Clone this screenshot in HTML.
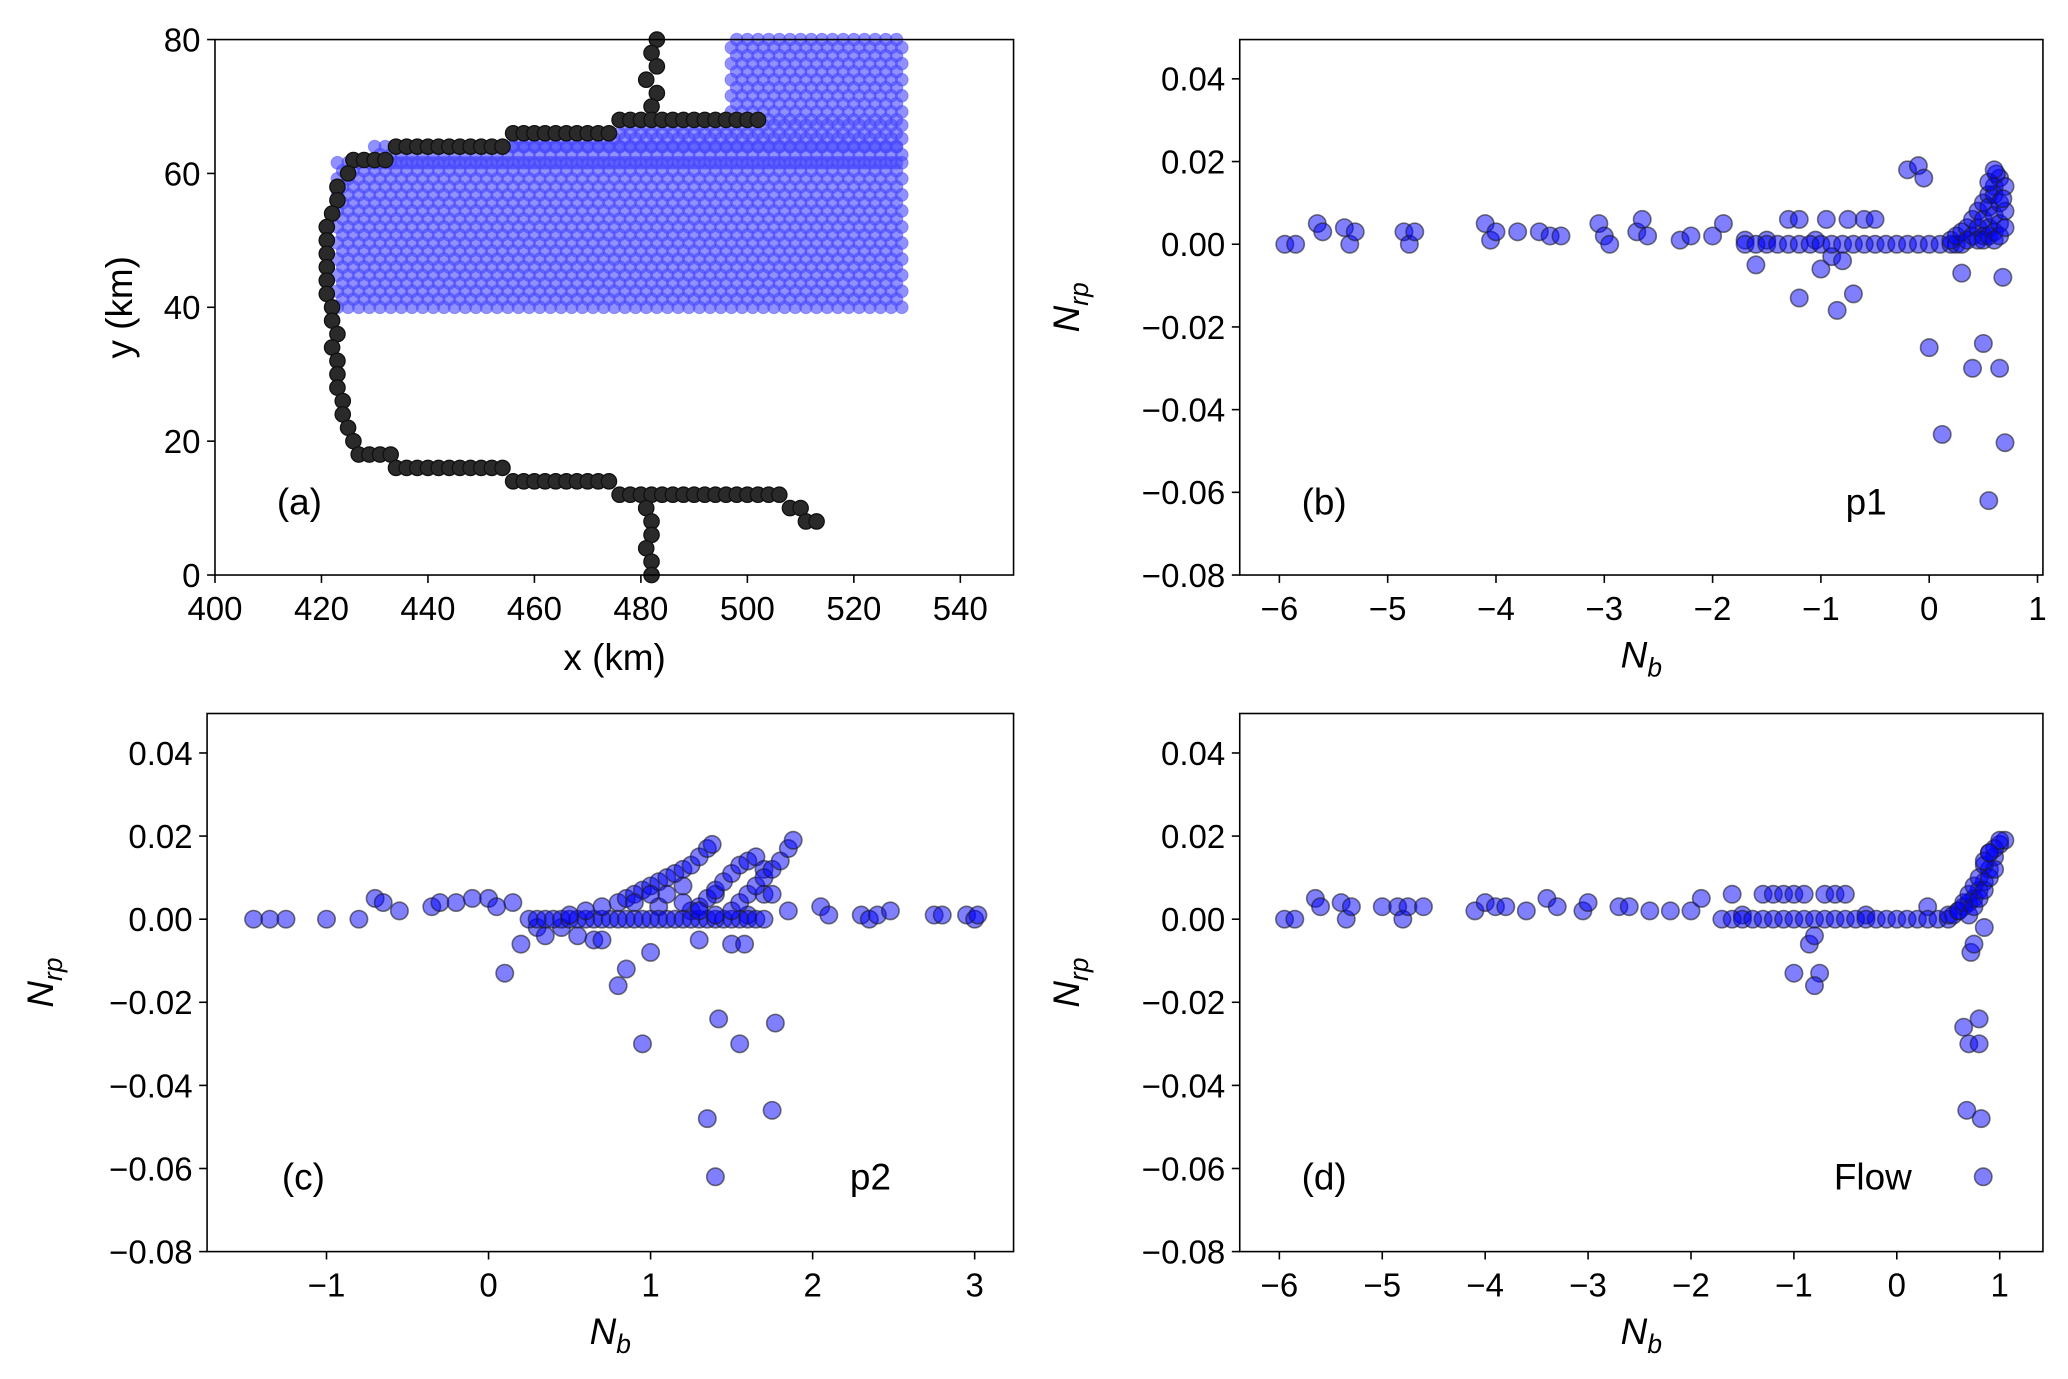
<!DOCTYPE html>
<html><head><meta charset="utf-8">
<style>
html,body{margin:0;padding:0;background:#fff;}
svg{display:block;font-family:"Liberation Sans","DejaVu Sans",sans-serif;}
</style></head>
<body>
<svg id="fig" width="2068" height="1379" viewBox="0 0 1568 1045.6" xmlns="http://www.w3.org/2000/svg"></svg>
<script>
// ---------- data ----------
const boundaryX = [483,482,483,481,483,482, 476,478,480,482,484,486,488,490,492,494,496,498,500,502, 456,458,460,462,464,466,468,470,472,474, 434,436,438,440,442,444,446,448,450,452,454, 426,428,430,432, 425,423,423,422,421,421,421,421,421,421,422,422,423,422,423,423,423,424,424,425,426, 427,429,431,433, 434,436,438,440,442,444,446,448,450,452,454, 456,458,460,462,464,466,468,470,472,474, 476,478,480,482,484,486,488,490,492,494,496,498,500,502,504,506, 508,510,511,513, 481,482,482,481,482,482];
const boundaryY = [80,78,76,74,72,70, 68,68,68,68,68,68,68,68,68,68,68,68,68,68, 66,66,66,66,66,66,66,66,66,66, 64,64,64,64,64,64,64,64,64,64,64, 62,62,62,62, 60,58,56,54,52,50,48,46,44,42,40,38,36,34,32,30,28,26,24,22,20, 18,18,18,18, 16,16,16,16,16,16,16,16,16,16,16, 14,14,14,14,14,14,14,14,14,14, 12,12,12,12,12,12,12,12,12,12,12,12,12,12,12,12, 10,10,8,8, 10,8,6,4,2,0];
const regionYFrom = [40, 61.6, 64, 66, 68];
const regionYTo   = [61.6, 64, 66, 68, 80];
const regionXFrom = [423, 430, 456, 476, 497];
const regionXTo = 529;

const bX = [-5.95,-5.85,-5.65,-5.6,-5.4,-5.35,-5.3,-4.85,-4.8,-4.75,-4.1,-4.05,-4.0,-3.8,-3.6,-3.5,-3.4,-3.05,-3.0,-2.95,-2.7,-2.65,-2.6,-2.3,-2.2,-2.0,-1.9,-1.7,-1.6,-1.5,-1.3,-1.2,-1.05,-1.0,-0.95,-0.9,-0.85,-0.8,-0.75,-0.7,-0.6,-0.5,-0.2,-0.1,-0.05,0.0,0.12,0.3,0.4,0.5,0.55,0.65,0.7,0.68,-1.2,
 -1.7,-1.6,-1.5,-1.4,-1.3,-1.2,-1.1,-1.0,-0.9,-0.8,-0.7,-0.6,-0.5,-0.4,-0.3,-0.2,-0.1,0.0,0.1,0.2,0.25,0.3,
 0.2,0.25,0.3,0.35,0.4,0.45,0.5,0.55,0.6,0.35,0.4,0.45,0.5,0.55,0.6,0.65,0.45,0.5,0.55,0.6,0.65,0.7,0.5,0.55,0.6,0.65,0.7,0.6,0.65,0.7,0.62,0.68,0.55,0.6];
const bY = [0,0,0.005,0.003,0.004,0,0.003,0.003,0,0.003,0.005,0.001,0.003,0.003,0.003,0.002,0.002,0.005,0.002,0,0.003,0.006,0.002,0.001,0.002,0.002,0.005,0.001,-0.005,0.001,0.006,0.006,0.001,-0.006,0.006,-0.003,-0.016,-0.004,0.006,-0.012,0.006,0.006,0.018,0.019,0.016,-0.025,-0.046,-0.007,-0.03,-0.024,-0.062,-0.03,-0.048,-0.008,-0.013,
 0,0,0,0,0,0,0,0,0,0,0,0,0,0,0,0,0,0,0,0,0,0,
 0.001,0.002,0.003,0.004,0.006,0.008,0.01,0.012,0.014,0.001,0.002,0.004,0.006,0.009,0.012,0.016,0.001,0.002,0.004,0.007,0.01,0.014,0.001,0.002,0.003,0.005,0.008,0.001,0.002,0.004,0.017,0.011,0.015,0.018];

const cX = [-1.45,-1.35,-1.25,-1.0,-0.8,-0.7,-0.65,-0.55,-0.35,-0.3,-0.2,-0.1,0.0,0.05,0.1,0.15,0.2,0.3,0.35,0.45,0.55,0.65,0.7,0.8,0.85,0.95,1.0,1.05,1.3,1.35,1.4,1.42,1.5,1.55,1.58,1.75,1.77,1.85,2.05,2.1,2.3,2.35,2.4,2.48,2.75,2.8,2.95,3.0,3.02,1.4,1.2,1.6,1.25,1.7,
 0.25,0.3,0.35,0.4,0.45,0.5,0.55,0.6,0.65,0.7,0.75,0.8,0.85,0.9,0.95,1.0,1.05,1.1,1.15,1.2,1.25,1.3,1.35,1.4,1.45,1.5,1.55,1.6,1.65,1.7,
 0.5,0.6,0.7,0.8,0.85,0.9,0.95,1.0,1.05,1.1,1.15,1.2,1.25,1.3,1.35,1.38,1.3,1.35,1.4,1.45,1.5,1.55,1.6,1.65,1.7,1.75,1.5,1.55,1.6,1.65,1.7,1.75,1.8,1.85,1.88,0.9,1.0,1.1,1.2,1.3,1.4];
const cY = [0,0,0,0,0,0.005,0.004,0.002,0.003,0.004,0.004,0.005,0.005,0.003,-0.013,0.004,-0.006,-0.002,-0.004,-0.002,-0.004,-0.005,-0.005,-0.016,-0.012,-0.03,-0.008,0.003,-0.005,-0.048,-0.062,-0.024,-0.006,-0.03,-0.006,-0.046,-0.025,0.002,0.003,0.001,0.001,0.0,0.001,0.002,0.001,0.001,0.001,0.0,0.001,0.006,0.008,0.001,0.002,0.006,
 0,0,0,0,0,0,0,0,0,0,0,0,0,0,0,0,0,0,0,0,0,0,0,0,0,0,0,0,0,0,
 0.001,0.002,0.003,0.004,0.005,0.006,0.007,0.008,0.009,0.01,0.011,0.012,0.013,0.015,0.017,0.018,0.003,0.005,0.007,0.009,0.011,0.013,0.014,0.015,0.012,0.006,0.002,0.004,0.006,0.008,0.01,0.012,0.014,0.017,0.019,0.004,0.006,0.006,0.004,0.002,0.001];

const dX = [-5.95,-5.85,-5.65,-5.6,-5.4,-5.35,-5.3,-5.0,-4.85,-4.8,-4.75,-4.6,-4.1,-4.0,-3.9,-3.8,-3.6,-3.4,-3.3,-3.05,-3.0,-2.7,-2.6,-2.4,-2.2,-2.0,-1.9,-1.6,-1.5,-1.3,-1.2,-1.1,-1.0,-0.9,-0.85,-0.8,-0.75,-0.7,-0.6,-0.5,-0.3,0.3,0.65,0.68,0.7,0.72,0.75,0.8,0.82,0.84,0.8,0.85,-1.0,-0.8,
 -1.7,-1.6,-1.5,-1.4,-1.3,-1.2,-1.1,-1.0,-0.9,-0.8,-0.7,-0.6,-0.5,-0.4,-0.3,-0.2,-0.1,0.0,0.1,0.2,0.3,0.4,0.5,
 0.5,0.55,0.6,0.65,0.7,0.75,0.8,0.85,0.9,0.95,1.0,1.05,0.6,0.65,0.7,0.75,0.8,0.85,0.9,0.95,1.0,0.7,0.75,0.8,0.85,0.9,0.95,0.85,0.9];
const dY = [0,0,0.005,0.003,0.004,0,0.003,0.003,0.003,0,0.003,0.003,0.002,0.004,0.003,0.003,0.002,0.005,0.003,0.002,0.004,0.003,0.003,0.002,0.002,0.002,0.005,0.006,0.001,0.006,0.006,0.006,0.006,0.006,-0.006,-0.004,-0.013,0.006,0.006,0.006,0.001,0.003,-0.026,-0.046,-0.03,-0.008,-0.006,-0.024,-0.048,-0.062,-0.03,-0.002,-0.013,-0.016,
 0,0,0,0,0,0,0,0,0,0,0,0,0,0,0,0,0,0,0,0,0,0,0,
 0.001,0.001,0.002,0.003,0.004,0.005,0.007,0.009,0.012,0.015,0.018,0.019,0.002,0.004,0.006,0.008,0.01,0.013,0.016,0.017,0.019,0.001,0.003,0.005,0.007,0.01,0.012,0.014,0.016];

const tickA_X = [400,420,440,460,480,500,520,540];
const tickA_Y = [0,20,40,60,80];
const tickNrp = [0.04,0.02,0.00,-0.02,-0.04,-0.06,-0.08];
const tickNrpLabels = ["0.04","0.02","0.00","\u22120.02","\u22120.04","\u22120.06","\u22120.08"];
const tickBD = [-6,-5,-4,-3,-2,-1,0,1];
const tickC = [-1,0,1,2,3];
const minus = v => v<0 ? "\u2212"+Math.abs(v) : String(v);

// ---------- drawing ----------
const NS = "http://www.w3.org/2000/svg";
const svg = document.getElementById("fig");
function el(tag, attrs, parent){ const e=document.createElementNS(NS,tag); for(const k in attrs) e.setAttribute(k,attrs[k]); (parent||svg).appendChild(e); return e; }
function txt(s, x, y, size, anchor, parent, name){
  const t = el("text",{x:x,y:y,"font-size":size,"text-anchor":anchor,fill:"#000"},parent);
  t.textContent = s;
  
  
  return t;
}
function panel(name, L, R, T, B, xmin, xmax, ymin, ymax){
  const g = el("g",{});
  
  
  const sx = v => L + (v - xmin) / (xmax - xmin) * (R - L);
  const sy = v => B - (v - ymin) / (ymax - ymin) * (B - T);
  return {g, sx, sy, L, R, T, B};
}
function frame(p){
  const r = el("rect",{x:p.L,y:p.T,width:p.R-p.L,height:p.B-p.T,fill:"none",stroke:"#000","stroke-width":1.2},p.g);
  
  
}
function xticks(p, vals, labels){
  vals.forEach((v,i)=>{
    const x=p.sx(v);
    el("line",{x1:x,x2:x,y1:p.B,y2:p.B+6,stroke:"#000","stroke-width":1.2},p.g);
    txt(labels[i], x, p.B+34, 25, "middle", p.g, "x-tick-label");
  });
}
function yticks(p, vals, labels){
  vals.forEach((v,i)=>{
    const y=p.sy(v);
    el("line",{x1:p.L-6,x2:p.L,y1:y,y2:y,stroke:"#000","stroke-width":1.2},p.g);
    txt(labels[i], p.L-11, y+9, 25, "end", p.g, "y-tick-label");
  });
}
function scatter(p, xs, ys, name){
  for(let i=0;i<xs.length;i++){
    const c = el("circle",{cx:p.sx(xs[i]),cy:p.sy(ys[i]),r:6.6,fill:"rgba(0,0,255,0.5)",stroke:"rgba(30,30,30,0.6)","stroke-width":1.2},p.g);
    
    
  }
}
function nrpLabel(p, x){
  const t = el("text",{x:0,y:0,"font-size":28,"text-anchor":"middle",transform:`translate(${x},${(p.T+p.B)/2}) rotate(-90)`},p.g);
  
  
  t.innerHTML = '<tspan font-style="italic">N</tspan><tspan font-style="italic" font-size="20" dy="7">rp</tspan>';
}
function nbLabel(p, y){
  const t = el("text",{x:(p.L+p.R)/2,y:y,"font-size":28,"text-anchor":"middle"},p.g);
  
  
  t.innerHTML = '<tspan font-style="italic">N</tspan><tspan font-style="italic" font-size="20" dy="7">b</tspan>';
}

// Panel (a)
const pa = panel("panel-a", 163, 768.5, 30, 436, 400, 550, 0, 80);
for(let r=0;r<regionYFrom.length;r++){
  for(let y=regionYFrom[r]; y<regionYTo[r]+0.001; y+=1.2){
    const row = Math.round((y-40)/1.2);
    const off = (row%2)*1;
    for(let x=regionXFrom[r]+off; x<=regionXTo; x+=2){
      const c = el("circle",{cx:pa.sx(x),cy:pa.sy(y),r:4.8,fill:"rgba(70,70,255,0.6)",stroke:"rgba(70,70,255,0.45)","stroke-width":0.8},pa.g);
      
      
    }
  }
}
for(let i=0;i<boundaryX.length;i++){
  const c = el("circle",{cx:pa.sx(boundaryX[i]),cy:pa.sy(boundaryY[i]),r:5.8,fill:"#2a2a2a",stroke:"#111","stroke-width":1},pa.g);
  
  
}
frame(pa);
xticks(pa, tickA_X, tickA_X.map(String));
yticks(pa, tickA_Y, tickA_Y.map(String));
txt("x (km)", 466, 508, 28, "middle", pa.g, "x-axis-title");
(function(){ const t=el("text",{x:0,y:0,"font-size":28,"text-anchor":"middle",transform:"translate(100,233) rotate(-90)"},pa.g); t.textContent="y (km)";   })();
txt("(a)", 227, 390, 28, "middle", pa.g, "panel-label");

// Panel (b)
const pb = panel("panel-b", 940, 1549, 30, 436, -6.366, 1.05, -0.08, 0.0495);
scatter(pb, bX, bY, "point-p1");
frame(pb);
xticks(pb, tickBD, tickBD.map(minus));
yticks(pb, tickNrp, tickNrpLabels);
nrpLabel(pb, 818); nbLabel(pb, 506);
txt("(b)", 1004, 390, 28, "middle", pb.g, "panel-label");
txt("p1", 1415, 390, 28, "middle", pb.g, "series-label");

// Panel (c)
const pc = panel("panel-c", 157, 768.5, 541, 949, -1.737, 3.24, -0.08, 0.0495);
scatter(pc, cX, cY, "point-p2");
frame(pc);
xticks(pc, tickC, tickC.map(minus));
yticks(pc, tickNrp, tickNrpLabels);
nrpLabel(pc, 40); nbLabel(pc, 1019);
txt("(c)", 230, 902, 28, "middle", pc.g, "panel-label");
txt("p2", 660, 902, 28, "middle", pc.g, "series-label");

// Panel (d)
const pd = panel("panel-d", 940, 1549, 541, 949, -6.385, 1.42, -0.08, 0.0495);
scatter(pd, dX, dY, "point-flow");
frame(pd);
xticks(pd, tickBD, tickBD.map(minus));
yticks(pd, tickNrp, tickNrpLabels);
nrpLabel(pd, 818); nbLabel(pd, 1019);
txt("(d)", 1004, 902, 28, "middle", pd.g, "panel-label");
txt("Flow", 1420, 902, 28, "middle", pd.g, "series-label");
</script>
</body></html>
